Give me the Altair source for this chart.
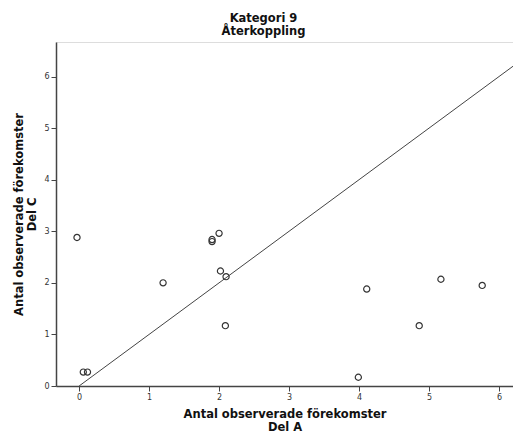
import altair as alt
import pandas as pd

# Data
del_a = [-0.03, 0.06, 0.12, 1.20, 1.90, 1.90, 2.00, 2.02, 2.10, 2.09, 4.11, 5.17, 5.76, 4.86, 3.99]
del_c = [2.88, 0.27, 0.27, 2.00, 2.84, 2.80, 2.96, 2.23, 2.12, 1.17, 1.88, 2.07, 1.95, 1.17, 0.17]
ref_line = [0, 7]
x_ticks = [0, 1, 2, 3, 4, 5, 6]
y_ticks = [0, 1, 2, 3, 4, 5, 6]

pts = pd.DataFrame({"a": del_a, "c": del_c})
ln = pd.DataFrame({"a": ref_line, "c": ref_line})

FONT = "DejaVu Sans"
xscale = alt.Scale(domain=[-0.33, 6.2], nice=False, zero=False)
yscale = alt.Scale(domain=[0, 6.67], nice=False, zero=False)

common = dict(
    grid=False, tickSize=5, tickColor="#444", domainColor="#444", domainWidth=1.5,
    labelFontSize=8, labelColor="#333", labelFont=FONT, labelPadding=2,
    titleFont=FONT, titleFontSize=11.5, titleFontWeight="bold", titleColor="#111",
    titleLineHeight=13, format="d",
)
xaxis = alt.Axis(title=["Antal observerade förekomster", "Del A"], values=x_ticks,
                 titlePadding=7, **common)
yaxis = alt.Axis(title=["Antal observerade förekomster", "Del C"], values=y_ticks,
                 titlePadding=6, **common)

points = alt.Chart(pts).mark_point(
    shape="circle", filled=False, size=38, color="#333", strokeWidth=1.2, opacity=1
).encode(
    x=alt.X("a:Q", scale=xscale, axis=xaxis),
    y=alt.Y("c:Q", scale=yscale, axis=yaxis),
)

line = alt.Chart(ln).mark_line(color="#444", strokeWidth=1, clip=True).encode(
    x=alt.X("a:Q", scale=xscale),
    y=alt.Y("c:Q", scale=yscale),
)

chart = alt.layer(line, points).properties(
    width=457,
    height=344,
    autosize=alt.AutoSizeParams(type="none"),
    padding={"left": 48, "top": 34, "right": 0, "bottom": 50},
    title=alt.TitleParams(
        text=["Kategori 9", "Återkoppling"],
        font=FONT, fontSize=11.5, fontWeight="bold", color="#111",
        anchor="middle", dx=-21, offset=5, lineHeight=13,
    ),
).configure_view(
    fill="#f0f0f0", stroke="#777", strokeWidth=1.5
).configure(background="white")

chart.save("out.html", embed_options={"renderer": "svg", "actions": False})
